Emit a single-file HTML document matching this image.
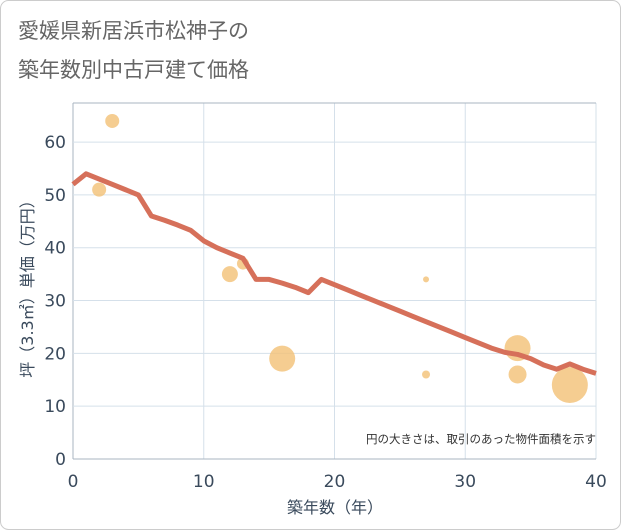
<!DOCTYPE html>
<html><head><meta charset="utf-8"><style>
body{margin:0;background:#fff}
svg{display:block;font-family:"Liberation Sans","Noto Sans CJK JP",sans-serif}
</style></head><body>
<svg id="c" width="621" height="530" viewBox="0 0 621 530">
<rect x="0.5" y="0.5" width="620" height="529" rx="8" fill="#fff" stroke="#ccc"/>
<text x="18" y="38" font-size="21" fill="#666">愛媛県新居浜市松神子の</text>
<text x="18" y="77" font-size="21" fill="#666">築年数別中古戸建て価格</text>
<g id="grid"></g>
<g id="marks"></g>
<text x="596" y="443" font-size="11.5" fill="#333" text-anchor="end">円の大きさは、取引のあった物件面積を示す</text>
<text x="335" y="513" font-size="16" fill="#3a4a5c" text-anchor="middle" font-family="DejaVu Sans, Noto Sans CJK JP, sans-serif">築年数（年）</text>
<text transform="translate(33,285) rotate(-90)" font-size="16" fill="#3a4a5c" text-anchor="middle" font-family="DejaVu Sans, Noto Sans CJK JP, sans-serif">坪（3.3㎡）単価（万円）</text>
</svg>
<script>
const xTicks=[0,10,20,30,40];
const yTicks=[0,10,20,30,40,50,60];
const lineYears=[0,1,2,3,4,5,6,7,8,9,10,11,12,13,14,15,16,17,18,19,20,21,22,23,24,25,26,27,28,29,30,31,32,33,34,35,36,37,38,39,40];
const linePrices=[52,54,53,52,51,50,46,45.2,44.3,43.3,41.3,40,39,38,34,34,33.3,32.5,31.5,34,33,32,31,30,29,28,27,26,25,24,23,22,21,20.2,19.8,19,17.8,17,18,17,16.2];
const bubbleYears=[3,2,12,13,16,27,27,34,34,38];
const bubblePrices=[64,51,35,37,19,34,16,21,16,14];
const bubbleSizes=[7,7,8,6,13,3,4,13,9,18];
const X0=73,X1=596,Y0=459,Y1=103,XMAX=40,YMAX=67.4;
const sx=v=>X0+(X1-X0)*v/XMAX, sy=v=>Y0-(Y0-Y1)*v/YMAX;
const NS="http://www.w3.org/2000/svg";
const grid=document.getElementById('grid'),marks=document.getElementById('marks');
function mk(tag,attrs,parent){const e=document.createElementNS(NS,tag);for(const k in attrs)e.setAttribute(k,attrs[k]);parent.appendChild(e);return e;}
const bg=mk('rect',{x:X0,y:Y1,width:X1-X0,height:Y0-Y1,fill:'#fff'},grid);


xTicks.forEach(t=>{
 const l=mk('line',{x1:sx(t),x2:sx(t),y1:Y1,y2:Y0,stroke:t==0?'#aab4c0':'#d5e0ea','stroke-width':1},grid);
 
 
 const tx=mk('text',{x:sx(t),y:487,'font-size':17,fill:'#3a4a5c','text-anchor':'middle','font-family':'DejaVu Sans, sans-serif'},grid);tx.textContent=t;
 
 
});
yTicks.forEach(t=>{
 const l=mk('line',{x1:X0,x2:X1,y1:sy(t),y2:sy(t),stroke:t==0?'#aab4c0':'#d5e0ea','stroke-width':1},grid);
 
 
 const tx=mk('text',{x:66,y:sy(t)+6,'font-size':17,fill:'#3a4a5c','text-anchor':'end','font-family':'DejaVu Sans, sans-serif'},grid);tx.textContent=t;
 
 
});
const topBorder=mk('line',{x1:X0,x2:X1,y1:Y1,y2:Y1,stroke:'#aab4c0'},grid);


bubbleYears.forEach((yr,i)=>{
 const c=mk('circle',{cx:sx(yr),cy:sy(bubblePrices[i]),r:bubbleSizes[i],fill:'#f3c075','fill-opacity':0.8},marks);
 
 
});
const p=mk('polyline',{points:lineYears.map((y,i)=>sx(y)+','+sy(linePrices[i])).join(' '),fill:'none',stroke:'#d6705a','stroke-width':5,'stroke-linejoin':'round'},marks);


</script>
</body></html>
